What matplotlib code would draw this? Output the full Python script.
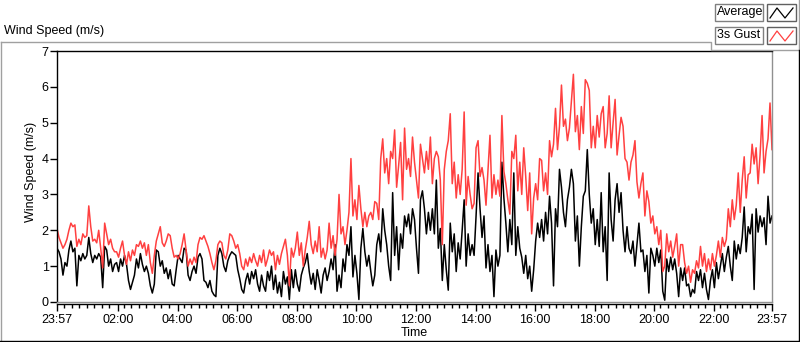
import numpy as np
import matplotlib.pyplot as plt
from matplotlib.patches import Rectangle
from matplotlib.lines import Line2D

plt.rcParams['font.family'] = ['Liberation Sans', 'DejaVu Sans']
plt.rcParams['font.size'] = 9

# one sample every 4 minutes, starting at 23:57 (15 values per hour)
step_min = 4
avg = [
    1.5, 1.4, 1.2, 0.75, 1.1, 1.0, 1.45, 1.7, 1.4, 1.5, 0.45, 1.3, 1.15, 1.35, 1.2,
    1.3, 1.8, 1.35, 1.1, 1.3, 1.2, 1.35, 1.25, 0.4, 1.55, 1.45, 1.0, 1.2, 0.85, 1.05,
    1.1, 0.85, 1.2, 1.0, 1.3, 1.05, 0.6, 0.35, 0.55, 0.75, 1.2, 0.95, 1.35, 1.05, 0.85,
    1.0, 0.8, 0.45, 0.25, 0.5, 1.45, 1.4, 1.0, 1.15, 0.8, 0.95, 0.65, 0.9, 0.5, 0.45,
    0.9, 1.3, 1.2, 1.1, 1.5, 1.45, 0.75, 0.6, 0.85, 1.0, 0.8, 1.25, 1.35, 1.2, 0.6,
    0.55, 0.4, 0.6, 0.3, 0.2, 0.15, 1.3, 1.5, 1.35, 1.0, 0.85, 1.15, 1.3, 1.4, 1.35,
    1.3, 0.9, 0.65, 0.35, 0.25, 0.6, 0.8, 0.5, 0.85, 0.65, 0.9, 0.5, 0.3, 0.75, 0.45,
    0.3, 0.85, 0.6, 1.0, 0.35, 0.75, 0.25, 0.55, 0.15, 0.85, 0.5, 0.7, 0.07, 0.9, 0.4,
    0.9, 0.5, 0.3, 0.75, 0.95, 1.1, 1.35, 0.85, 0.5, 0.8, 0.35, 0.9, 0.6, 0.25, 0.75,
    0.95, 0.6, 0.85, 1.2, 0.9, 1.6, 0.3, 0.75, 0.4, 1.2, 0.85, 1.6, 1.3, 2.1, 0.7,
    1.3, 0.8, 0.07, 1.5, 2.05, 1.4, 1.0, 1.3, 0.85, 0.45, 0.75, 1.6, 1.9, 1.4, 2.6,
    2.0, 1.6, 1.0, 0.6, 3.05, 1.3, 2.1, 0.9, 1.9, 1.5, 2.4, 2.1, 2.45, 1.9, 2.6,
    2.3, 1.5, 0.8, 2.85, 3.1, 2.6, 1.9, 2.5, 2.0, 2.6, 1.9, 3.4, 1.5, 2.05, 0.6,
    1.6, 0.9, 0.33, 2.2, 1.4, 1.9, 0.85, 1.65, 1.2, 2.0, 2.85, 1.0, 1.9, 1.3, 1.6,
    1.3, 2.4, 3.6, 2.6, 1.8, 2.4, 0.95, 1.6, 0.85, 1.3, 0.15, 1.45, 1.0, 1.3, 3.9,
    2.9, 2.2, 1.4, 2.3, 1.6, 3.6, 1.3, 2.1, 1.5, 1.25, 0.8, 1.3, 0.65, 1.0, 0.3,
    0.9, 1.7, 2.2, 1.8, 2.3, 1.7, 2.5, 1.9, 2.95, 2.2, 0.45, 2.6, 2.1, 3.7, 3.2,
    2.5, 2.1, 2.85, 3.2, 3.7, 3.3, 1.7, 2.4, 1.0, 2.1, 2.95, 3.1, 4.25, 3.0, 2.2,
    2.6, 1.6, 2.3, 1.55, 3.05, 1.4, 2.1, 0.6, 3.6, 2.3, 1.7, 2.85, 3.3, 2.5, 3.05,
    2.0, 1.4, 2.1, 1.5, 1.35, 1.7, 1.0, 1.6, 2.2, 1.4, 1.45, 0.85, 1.3, 0.25, 1.5,
    1.3, 1.0, 1.5, 1.1, 1.45, 0.3, 0.05, 1.2, 0.85, 1.25, 0.9, 1.2, 0.8, 0.15, 0.95,
    0.6, 0.95, 0.45, 0.5, 0.15, 0.35, 0.25, 0.85, 0.6, 0.9, 0.4, 0.8, 0.35, 0.07, 0.6,
    0.9, 0.4, 1.1, 0.65, 1.0, 1.35, 0.85, 1.25, 1.55, 1.0, 0.6, 1.7, 1.2, 1.6, 1.35,
    1.8, 2.65, 1.4, 2.1, 1.9, 2.45, 0.35, 2.6, 1.95, 2.4, 2.1, 2.35, 1.6, 2.95, 2.2, 2.4,
]
gust = [
    2.05, 1.8, 1.65, 1.5, 1.6, 1.75, 2.0, 2.2, 2.1, 2.15, 1.55, 1.75, 1.6, 1.9, 1.8,
    1.85, 2.68, 2.1, 1.7, 1.75, 1.65, 2.0, 1.5, 0.95, 2.2, 1.9, 1.6, 1.75, 1.5, 1.4,
    1.4, 1.25, 1.5, 1.7, 1.3, 1.05, 1.4, 1.15, 1.45, 1.3, 1.6, 1.55, 1.7, 1.5, 1.65,
    1.3, 1.6, 1.1, 0.8, 1.3, 1.7, 1.9, 2.1, 1.65, 1.55, 1.7, 1.9, 1.85, 1.5, 1.25,
    1.3, 1.2, 1.35, 1.6, 1.9, 1.45, 1.0, 1.2, 1.05, 1.25, 1.1, 1.6, 1.8, 1.75, 1.85,
    1.7, 1.55, 1.35, 1.1, 0.9, 1.15, 1.6, 1.7, 1.65, 1.3, 1.2, 1.45, 1.9, 1.85, 1.7,
    1.5, 1.6, 1.35, 1.0, 0.9, 1.2, 1.0, 1.25, 1.1, 1.35, 1.15, 1.0, 1.3, 1.1, 1.45,
    1.0, 1.2, 1.45, 1.3, 1.4, 0.9, 1.3, 1.05, 1.35, 1.55, 1.75, 1.3, 0.45, 1.5, 1.25,
    1.5, 1.95, 1.3, 1.65, 1.0, 1.45, 1.8, 2.25, 1.6, 1.35, 1.7, 1.4, 2.1, 1.25, 1.5,
    1.2, 1.45, 2.2, 1.5, 1.85, 1.3, 1.75, 3.0, 1.9, 2.1, 1.6, 2.0, 2.5, 4.0, 2.4,
    2.85, 2.3, 3.25, 2.6, 2.1, 2.5, 2.1, 2.4, 2.5, 2.3, 2.8, 2.75, 2.3, 4.0, 4.55,
    3.6, 4.0, 3.3, 4.2, 4.0, 4.8, 3.2, 3.8, 4.45, 2.85, 4.85, 3.7, 4.0, 3.5, 4.6,
    3.9, 3.4, 2.9, 4.4, 4.0, 3.6, 4.2, 3.7, 4.6, 3.3, 4.0, 4.2, 4.05, 3.4, 1.6,
    3.7, 4.2, 4.5, 5.25, 3.3, 3.9, 2.9, 3.55, 3.0, 3.7, 5.3, 2.7, 3.5, 3.0, 2.6,
    2.75, 4.3, 4.5, 3.5, 3.75, 3.4, 2.7, 3.7, 4.65, 2.9, 3.55, 3.0, 3.4, 2.95, 5.2,
    3.65, 3.3, 2.85, 2.45, 4.2, 4.0, 4.65, 3.1, 3.9, 3.0, 4.3, 3.5, 2.55, 3.6, 1.9,
    2.9, 3.3, 2.85, 4.0, 3.95, 3.1, 3.6, 3.0, 4.5, 4.05, 4.4, 5.4, 4.25, 4.9, 6.05,
    4.9, 5.1, 4.5, 4.85, 5.6, 6.35, 4.75, 5.2, 4.25, 5.45, 4.7, 6.2, 6.1, 5.9, 4.3,
    4.9, 4.3, 5.2, 4.6, 5.25, 5.45, 4.3, 4.7, 5.75, 4.3, 5.0, 5.65, 4.1, 4.65, 5.15,
    4.9, 4.0, 3.9, 3.4, 3.9, 4.1, 4.5, 3.35, 2.9, 3.3, 3.6, 2.4, 3.1, 2.8, 2.2,
    2.4, 1.9, 2.1, 1.6, 2.0, 0.85, 1.0, 1.9, 1.4, 1.7, 1.25, 1.55, 1.9, 1.0, 1.6,
    1.6, 1.1, 0.8, 1.0, 0.55, 0.9, 0.8, 1.15, 0.95, 1.55, 1.0, 1.35, 0.85, 1.2, 0.9,
    1.35, 1.0, 1.3, 1.7, 1.25, 1.8, 1.55, 1.75, 2.6, 2.1, 2.85, 2.3, 2.7, 3.6, 2.5,
    3.4, 4.05, 2.9, 3.55, 3.6, 4.4, 3.85, 4.3, 3.3, 4.1, 5.2, 3.6, 4.2, 4.55, 5.55, 4.25,
]
tick_labels = ['23:57', '02:00', '04:00', '06:00', '08:00', '10:00', '12:00',
               '14:00', '16:00', '18:00', '20:00', '22:00', '23:57']

W, H = 800, 342
def fx(x): return x / W
def fy(y): return 1 - y / H

t = np.arange(len(avg)) * step_min / 60.0  # hours since 23:57

fig = plt.figure(figsize=(W / 100, H / 100), dpi=100)
ax = fig.add_axes([fx(57), fy(302), fx(772) - fx(57), fy(51) - fy(302)])
ax.plot(t, avg, color='black', lw=1.1)
ax.plot(t, gust, color='#ff4040', lw=1.1)
ax.set_xlim(0, 24)
ax.set_ylim(0, 7)

# hour ticks: 02:00 is 2h03m after 23:57; minor ticks every 15 min
major = [0] + [2 * k + 0.05 for k in range(1, 12)] + [24]
ax.set_xticks(major)
ax.set_xticklabels(tick_labels)
minor = [m for m in np.arange(0.25, 24, 0.25) if min(abs(m - np.array(major))) > 0.1]
ax.set_xticks(minor, minor=True)
ax.set_yticks(range(8))
ax.tick_params(axis='x', which='major', length=5, width=1, pad=2)
ax.tick_params(axis='x', which='minor', length=3, width=1)
ax.tick_params(axis='y', length=5, width=1, pad=1)
ax.set_ylabel('Wind Speed (m/s)')
ax.yaxis.set_label_coords(-0.028, 0.52)
fig.text(fx(414), fy(339), 'Time', ha='center', va='bottom')

# LabVIEW-like plot frame: dark top/left, grey right/bottom, black scale line below
ax.spines['top'].set_color('black')
ax.spines['left'].set_color('black')
ax.spines['right'].set_color('#909090')
ax.spines['bottom'].set_color('black')
ax.spines['bottom'].set_position(('outward', 1.5))
for s in ax.spines.values():
    s.set_linewidth(1)
ax.axhline(0, color='#909090', lw=1, clip_on=False, zorder=5)

# outer frame
def line(xs, ys, c, lw=1):
    fig.add_artist(Line2D([fx(x) for x in xs], [fy(y) for y in ys],
                          color=c, lw=lw, transform=fig.transFigure))

line([0.5, 711, 711, 799], [42, 42, 50, 50], '#a0a0a0')
line([0.5, 0.5], [42, 341], '#a0a0a0')
line([799, 799], [0, 49], '#a0a0a0')
line([799, 799], [50, 341.5], 'black')
line([0, 799], [341, 341], 'black')

fig.text(fx(4), fy(37), 'Wind Speed (m/s)', va='bottom', ha='left')

# legend boxes
for i, (name, col) in enumerate([('Average', 'black'), ('3s Gust', '#ff4040')]):
    y0 = 4 + i * 23
    fig.add_artist(Rectangle((fx(715), fy(y0 + 17)), fx(763) - fx(715), 17 / H,
                             transform=fig.transFigure, fill=False,
                             ec='#808080', lw=1))
    fig.text(fx(717), fy(y0 + 8.5), name, va='center', ha='left')
    fig.add_artist(Rectangle((fx(767), fy(y0 + 17)), fx(796) - fx(767), 17 / H,
                             transform=fig.transFigure, fill=False,
                             ec='#606060', lw=1))
    line([770, 777, 785, 793], [y0 + 14, y0 + 4, y0 + 14, y0 + 4], col, 0.9)

fig.savefig('out.png', dpi=100)
